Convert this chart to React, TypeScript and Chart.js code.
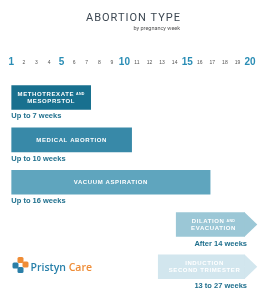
import React, { useEffect, useRef } from "react";
import Chart from "chart.js/auto";

// ---- data ----
const treatments = [
  "Methotrexate and Mesoprstol",
  "Medical Abortion",
  "Vacuum Aspiration",
  "Dilation and Evacuation",
  "Induction Second Trimester",
];
const startWeeks = [1, 1, 1, 14.1, 12.67];
const endWeeks = [7.34, 10.6, 16.85, 19.6, 19.6];
const openEnded = [false, false, false, true, true];
const barTextLines: [string, string][][] = [
  [["METHOTREXATE", "AND"], ["MESOPRSTOL", ""]],
  [["MEDICAL ABORTION", ""]],
  [["VACUUM ASPIRATION", ""]],
  [["DILATION", "AND"], ["EVACUATION", ""]],
  [["INDUCTION", ""], ["SECOND TRIMESTER", ""]],
];
const rangeNotes = [
  "Up to 7 weeks",
  "Up to 10 weeks",
  "Up to 16 weeks",
  "After 14 weeks",
  "13 to 27 weeks",
];
const weekTicks = [1, 2, 3, 4, 5, 6, 7, 8, 9, 10, 11, 12, 13, 14, 15, 16, 17, 18, 19, 20];
const majorWeeks = [1, 5, 10, 15, 20];
const titleText = "ABORTION TYPE";
const subtitleText = "by pregnancy week";
const brandParts = ["Pristyn", "Care"];

const barColors = ["#18708f", "#3889a8", "#5fa5be", "#9bc7d6", "#d2e6ee"];
const noteColor = "#1f6f8d";

const decorPlugin = {
  id: "decor",
  afterDatasetsDraw(chart: any) {
    const ctx = chart.ctx as CanvasRenderingContext2D;
    const meta = chart.getDatasetMeta(0);
    ctx.save();
    meta.data.forEach((bar: any, i: number) => {
      const { x, y, base, height } = bar.getProps(["x", "y", "base", "height"], true);
      const h = height;
      const col = barColors[i];
      // arrow head
      if (openEnded[i]) {
        ctx.fillStyle = col;
        ctx.beginPath();
        ctx.moveTo(x - 0.5, y - h / 2);
        ctx.lineTo(x + h / 2, y);
        ctx.lineTo(x - 0.5, y + h / 2);
        ctx.closePath();
        ctx.fill();
      }
      // inside text
      const lines = barTextLines[i];
      const cx = (x + base) / 2 + (openEnded[i] ? h / 8 : 0);
      const gap = 7;
      const y0 = y - ((lines.length - 1) * gap) / 2;
      ctx.fillStyle = "#ffffff";
      ctx.textBaseline = "middle";
      lines.forEach((ln, li) => {
        const ly = y0 + li * gap;
        ctx.font = "bold 6px 'Liberation Sans', Arial, sans-serif";
        (ctx as any).letterSpacing = "0.6px";
        const w1 = ctx.measureText(ln[0]).width;
        let w2 = 0;
        if (ln[1]) {
          ctx.font = "bold 3.6px 'Liberation Sans', Arial, sans-serif";
          (ctx as any).letterSpacing = "0.3px";
          w2 = ctx.measureText(ln[1]).width + 2;
        }
        const sx = cx - (w1 + w2) / 2;
        ctx.textAlign = "left";
        ctx.font = "bold 6px 'Liberation Sans', Arial, sans-serif";
        (ctx as any).letterSpacing = "0.6px";
        ctx.fillText(ln[0], sx, ly);
        if (ln[1]) {
          ctx.font = "bold 3.6px 'Liberation Sans', Arial, sans-serif";
          (ctx as any).letterSpacing = "0.3px";
          ctx.fillText(ln[1], sx + w1 + 2, ly);
        }
      });
      // note below
      (ctx as any).letterSpacing = "0px";
      ctx.font = "bold 7.5px 'Liberation Sans', Arial, sans-serif";
      ctx.fillStyle = noteColor;
      ctx.textBaseline = "middle";
      if (openEnded[i]) {
        ctx.textAlign = "right";
        ctx.fillText(rangeNotes[i], x + 2, y + h / 2 + 7);
      } else {
        ctx.textAlign = "left";
        ctx.fillText(rangeNotes[i], base, y + h / 2 + 6.5);
      }
    });

    // title
    const W = chart.width;
    (ctx as any).letterSpacing = "1px";
    ctx.font = "400 11px Roboto, sans-serif";
    ctx.fillStyle = "#3c4752";
    ctx.textAlign = "center";
    ctx.textBaseline = "middle";
    ctx.fillText(titleText, W / 2, 18);
    const tw = ctx.measureText(titleText).width;
    (ctx as any).letterSpacing = "0px";
    ctx.font = "5.5px Roboto, sans-serif";
    ctx.fillStyle = "#555";
    ctx.textAlign = "right";
    ctx.fillText(subtitleText, W / 2 + tw / 2 - 1, 29);

    // logo
    const lx = 12, ly = 256;
    const sq = (px: number, py: number, c: string) => {
      ctx.fillStyle = c;
      ctx.beginPath();
      (ctx as any).roundRect(px, py, 6, 6, 1.5);
      ctx.fill();
    };
    sq(lx + 5.5, ly + 1, "#ef8c35");
    sq(lx + 10.5, ly + 5.5, "#ef8c35");
    sq(lx + 0.5, ly + 6.5, "#2b7fa8");
    sq(lx + 5.5, ly + 11, "#2b7fa8");
    ctx.font = "600 10.5px 'Open Sans', sans-serif";
    ctx.textAlign = "left";
    ctx.textBaseline = "alphabetic";
    ctx.fillStyle = "#2880aa";
    ctx.fillText(brandParts[0], 30.5, 270.5);
    const bw = ctx.measureText(brandParts[0] + " ").width;
    ctx.fillStyle = "#ef8c35";
    ctx.fillText(brandParts[1], 30.5 + bw, 270.5);
    ctx.restore();
  },
};

export default function App() {
  const ref = useRef<HTMLCanvasElement>(null);
  useEffect(() => {
    if (!ref.current) return;
    const chart = new Chart(ref.current, {
      type: "bar",
      data: {
        labels: treatments,
        datasets: [
          {
            data: startWeeks.map((s, i) => [s, endWeeks[i]]) as any,
            backgroundColor: barColors,
            borderWidth: 0,
            borderSkipped: false,
            barPercentage: 0.58,
            categoryPercentage: 1,
          },
        ],
      },
      options: {
        animation: false,
        responsive: false,
        indexAxis: "y",
        layout: { padding: { top: 50, bottom: 12, left: 6, right: 5 } },
        plugins: {
          legend: { display: false },
          title: { display: false },
          tooltip: { enabled: false },
        },
        scales: {
          x: {
            type: "linear",
            position: "top",
            min: 0.573,
            max: 20.955,
            grid: { display: false, drawTicks: false },
            border: { display: false },
            afterFit: (scale: any) => {
              scale.height = 26.4;
            },
            afterBuildTicks: (scale: any) => {
              scale.ticks = weekTicks.map((v) => ({ value: v }));
            },
            ticks: {
              autoSkip: false,
              maxRotation: 0,
              padding: 8,
              includeBounds: false,
              callback: (v: any) => String(v),
              color: (c: any) => (majorWeeks.includes(c.tick?.value) ? "#2a8db5" : "#555"),
              font: (c: any) =>
                majorWeeks.includes(c.tick?.value)
                  ? { size: 10, weight: "bold", family: "'Liberation Sans', Arial, sans-serif", lineHeight: "12px" }
                  : { size: 5, family: "'Liberation Sans', Arial, sans-serif", lineHeight: "12px" },
            },
          },
          y: {
            type: "category",
            display: false,
          },
        },
      },
      plugins: [decorPlugin],
    });
    return () => chart.destroy();
  }, []);
  return (
    <div style={{ position: "absolute", left: 0, top: 0, width: 267, height: 300 }}>
      <canvas ref={ref} width={267} height={300} style={{ display: "block" }} />
    </div>
  );
}
